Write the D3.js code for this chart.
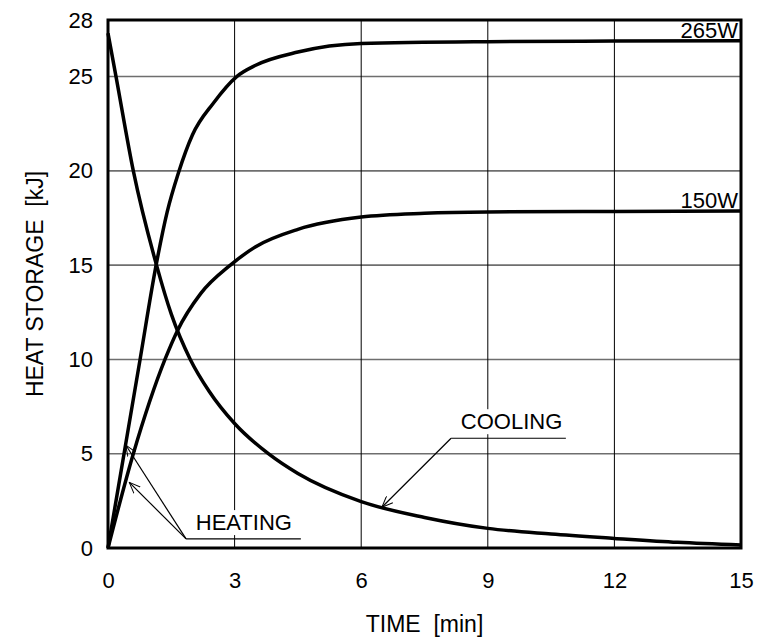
<!DOCTYPE html>
<html>
<head>
<meta charset="utf-8">
<script src="https://cdn.jsdelivr.net/npm/d3@7"></script>
<style>
  body { margin: 0; background: #fff; }
  text { font-family: "Liberation Sans", Arial, sans-serif; fill: #000; white-space: pre; }
</style>
</head>
<body>
<div id="chart"></div>
<script>
// values
const time265 = [0, 0.38, 0.76, 1.14, 1.4, 1.67, 2.0, 2.5, 3.05, 3.5, 4.5, 6, 9, 12, 15];
const heat265 = [0, 5, 10, 15, 17.8, 19.9, 21.9, 23.6, 25, 25.6, 26.3, 26.75, 26.85, 26.88, 26.9];
const time150 = [0, 0.6, 1.35, 1.64, 2.2, 2.9, 3.5, 4.5, 6, 7.5, 9, 12, 15];
const heat150 = [0, 5, 10, 11.5, 13.5, 15, 15.98, 16.9, 17.55, 17.75, 17.82, 17.85, 17.87];
const timeCool = [0, 0.19, 0.6, 1.15, 1.5, 1.95, 2.4, 3, 3.8, 4.5, 6, 7.5, 9, 10.5, 12, 13.5, 15];
const heatCool = [27.3, 25, 20, 15, 12.4, 10, 8.3, 6.6, 5, 3.95, 2.46, 1.62, 1.04, 0.74, 0.51, 0.3, 0.16];
const xTicks = [0, 3, 6, 9, 12, 15];
const yTicks = [0, 5, 10, 15, 20, 25, 28];
const yGrid = [5, 10, 15, 20, 25];
const xGrid = [3, 6, 9, 12];

const width = 758;
const height = 644;
const margin = { top: 20, right: 17, bottom: 96, left: 108 };
const w = width - margin.left - margin.right;
const h = height - margin.top - margin.bottom;
const fs = '22px';

const svg = d3.select('#chart').append('svg')
  .attr('width', width)
  .attr('height', height);

const defs = svg.append('defs');
defs.append('marker')
  .attr('id', 'arr')
  .attr('viewBox', '0 0 12 10')
  .attr('refX', 11).attr('refY', 5)
  .attr('markerWidth', 12).attr('markerHeight', 10)
  .attr('markerUnits', 'userSpaceOnUse')
  .attr('orient', 'auto')
  .append('path')
  .attr('d', 'M0,0.5 L11,5 L0,9.5')
  .attr('fill', 'none')
  .attr('stroke', '#000')
  .attr('stroke-width', 1);

const g = svg.append('g')
  .attr('transform', 'translate(' + margin.left + ',' + margin.top + ')');

const x = d3.scaleLinear().domain([0, 15]).range([0, w]);
const y = d3.scaleLinear().domain([0, 28]).range([h, 0]);

// grid
g.selectAll('.hgrid').data(yGrid).enter().append('line')
  .attr('x1', 0).attr('x2', w)
  .attr('y1', d => y(d)).attr('y2', d => y(d))
  .attr('stroke', '#6e6e6e')
  .attr('stroke-width', 1.6);
g.selectAll('.vgrid').data(xGrid).enter().append('line')
  .attr('x1', d => x(d)).attr('x2', d => x(d))
  .attr('y1', 0).attr('y2', h)
  .attr('stroke', '#000')
  .attr('stroke-width', 1);

// axes (labels only, frame drawn separately)
const xAxis = g.append('g')
  .attr('transform', 'translate(0,' + h + ')')
  .call(d3.axisBottom(x).tickValues(xTicks).tickSize(0).tickPadding(24));
const yAxis = g.append('g')
  .call(d3.axisLeft(y).tickValues(yTicks).tickSize(0).tickPadding(15));
[xAxis, yAxis].forEach(a => {
  a.select('.domain').remove();
  a.selectAll('text')
    .style('font-family', '"Liberation Sans", Arial, sans-serif')
    .style('font-size', fs)
    .attr('fill', '#000');
});

// white patches behind the callout labels break the grid
const bgLayer = g.append('g');

const line = d3.line()
  .x(d => x(d[0]))
  .y(d => y(d[1]))
  .curve(d3.curveMonotoneX);

const curves = [
  d3.zip(time265, heat265),
  d3.zip(time150, heat150),
  d3.zip(timeCool, heatCool)
];
g.selectAll('.curve').data(curves).enter().append('path')
  .attr('d', line)
  .attr('fill', 'none')
  .attr('stroke', '#000')
  .attr('stroke-width', 3.5)
  .attr('stroke-linejoin', 'round');

// frame
g.append('rect')
  .attr('width', w).attr('height', h)
  .attr('fill', 'none')
  .attr('stroke', '#000')
  .attr('stroke-width', 3);

// power labels
g.append('text')
  .attr('x', w - 3).attr('y', y(26.9) - 3)
  .attr('text-anchor', 'end')
  .style('font-size', fs)
  .text('265W');
g.append('text')
  .attr('x', w - 3).attr('y', y(17.87) - 3)
  .attr('text-anchor', 'end')
  .style('font-size', fs)
  .text('150W');

// HEATING / COOLING callouts
const callouts = [
  { t: 2.08, v: 0.95, text: 'HEATING' },
  { t: 8.36, v: 6.3, text: 'COOLING' }
];
callouts.forEach(l => {
  const t = g.append('text')
    .attr('x', x(l.t)).attr('y', y(l.v))
    .style('font-size', fs)
    .text(l.text);
  const bb = t.node().getBBox();
  bgLayer.append('rect')
    .attr('x', bb.x - 3).attr('y', bb.y)
    .attr('width', bb.width + 6).attr('height', bb.height)
    .attr('fill', '#fff');
});

const leaders = [
  { from: [1.85, 0.48], to: [4.57, 0.48], arrows: [[0.42, 5.46], [0.505, 3.48]] },
  { from: [8.13, 5.82], to: [10.85, 5.82], arrows: [[6.49, 2.16]] }
];
leaders.forEach(l => {
  g.append('line')
    .attr('x1', x(l.from[0])).attr('y1', y(l.from[1]))
    .attr('x2', x(l.to[0])).attr('y2', y(l.to[1]))
    .attr('stroke', '#000').attr('stroke-width', 1.2);
  l.arrows.forEach(a => {
    g.append('line')
      .attr('x1', x(l.from[0])).attr('y1', y(l.from[1]))
      .attr('x2', x(a[0])).attr('y2', y(a[1]))
      .attr('stroke', '#000').attr('stroke-width', 1.2)
      .attr('marker-end', 'url(#arr)');
  });
});

// axis titles
svg.append('text')
  .attr('x', margin.left + w / 2).attr('y', 632)
  .attr('text-anchor', 'middle')
  .attr('xml:space', 'preserve')
  .style('font-size', '23px')
  .text('TIME  [min]');
svg.append('text')
  .attr('transform', 'translate(43,' + (margin.top + h / 2) + ') rotate(-90)')
  .attr('text-anchor', 'middle')
  .attr('xml:space', 'preserve')
  .style('font-size', '23px')
  .text('HEAT STORAGE  [kJ]');
</script>
</body>
</html>
